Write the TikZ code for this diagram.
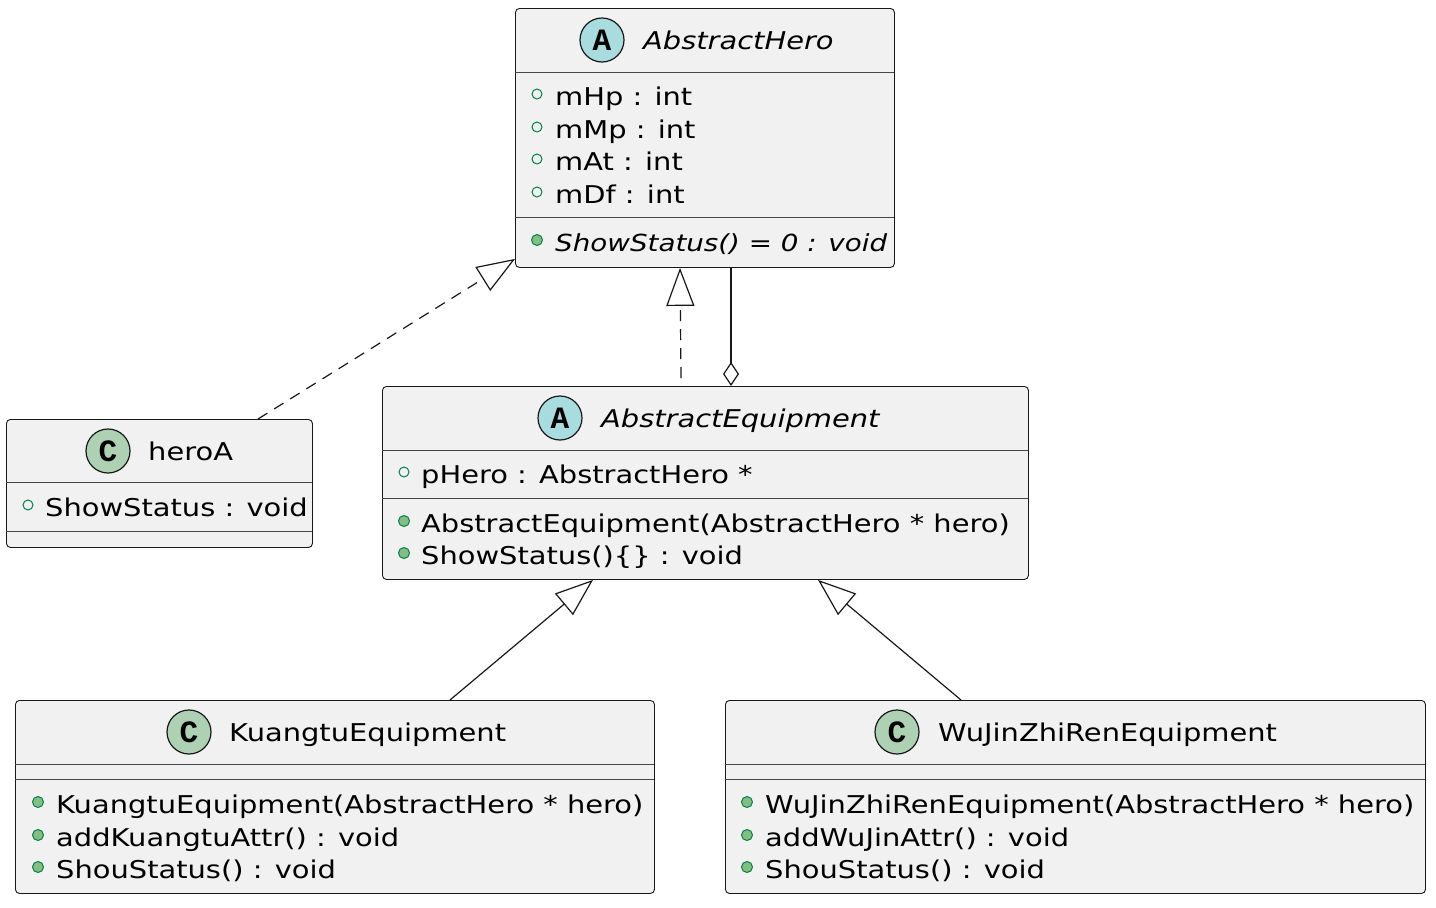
\documentclass[tikz,border=0pt]{standalone}
\usepackage{fontspec}
\setmainfont{DejaVu Sans}[FakeStretch=1.18]
\newfontfamily\iconfont{Liberation Mono}
\usepackage{tikz}
\usetikzlibrary{arrows.meta,positioning,calc}
\definecolor{umlFill}{HTML}{F1F1F1}
\definecolor{umlLine}{HTML}{181818}
\definecolor{iconClass}{HTML}{ADD1B2}
\definecolor{iconAbstract}{HTML}{A9DCDF}
\definecolor{visGreen}{HTML}{038048}
\definecolor{visFill}{HTML}{84BE84}

\begin{document}
\begin{tikzpicture}[x=1pt,y=-1pt,font=\fontsize{24.5}{29}\selectfont,
  umlbox/.style={draw=umlLine,fill=umlFill,line width=0.9pt,rounded corners=4pt,inner sep=0pt,anchor=north west},
  sepline/.style={draw=umlLine!80,line width=0.9pt},
  txt/.style={anchor=base west,inner sep=0pt},
  icon/.style={circle,draw=umlLine,line width=1.2pt,minimum size=44pt,inner sep=0pt,font=\iconfont\bfseries\fontsize{31}{31}\selectfont},
  pubAttr/.style={draw=visGreen,line width=1pt},
  pubOp/.style={draw=visGreen,fill=visFill,line width=1pt},
  realize/.style={draw=umlLine,line width=1.2pt,dash pattern=on 11pt off 8pt,-{Triangle[open,length=38pt,width=28pt]}},
  extend/.style={draw=umlLine,line width=1.2pt,-{Triangle[open,length=38pt,width=28pt]}},
  aggr/.style={draw=umlLine,line width=1.2pt,-{Diamond[open,length=24pt,width=16pt]}}]
\useasboundingbox (0,0) rectangle (1436,908);

\node[umlbox,minimum width=379pt,minimum height=259pt] (hero) at (515,8) {};
\node[icon,fill=iconAbstract] (heroIcon) at (602,40) {A};
\node[txt] at (643,49) {\itshape AbstractHero};
\draw[sepline] (515,72) -- (894,72);
\foreach \y/\t in {96/mHp : int,129/mMp : int,161/mAt : int,194/mDf : int}{
  \draw[pubAttr] (537,\y-2) circle (5pt);
  \node[txt] at (555,\y+9) {\t};
}
\draw[sepline] (515,217) -- (894,217);
\draw[pubOp] (537,240) circle (5.5pt);
\node[txt] at (555,251) {\fontsize{23.5}{28}\selectfont\itshape ShowStatus() = 0 : void};

\node[umlbox,minimum width=306pt,minimum height=128pt] (heroA) at (6,419) {};
\node[icon,fill=iconClass] (heroAIcon) at (108,451) {C};
\node[txt] at (148,460) {heroA};
\draw[sepline] (6,482) -- (312,482);
\draw[pubAttr] (28,505) circle (5pt);
\node[txt] at (45,516) {ShowStatus : void};
\draw[sepline] (6,531) -- (312,531);

\node[umlbox,minimum width=646pt,minimum height=193pt] (equip) at (382,386) {};
\node[icon,fill=iconAbstract] (equipIcon) at (560,418) {A};
\node[txt] at (601,427) {\itshape AbstractEquipment};
\draw[sepline] (382,450) -- (1028,450);
\draw[pubAttr] (404,472) circle (5pt);
\node[txt] at (421,483) {pHero : AbstractHero *};
\draw[sepline] (382,498) -- (1028,498);
\foreach \y/\t in {523/AbstractEquipment(AbstractHero * hero),555/ShowStatus()\{\} : void}{
  \draw[pubOp] (404,\y-2) circle (5.5pt);
  \node[txt] at (421,\y+9) {\t};
}

\node[umlbox,minimum width=639pt,minimum height=193pt] (kuangtu) at (15,700) {};
\node[icon,fill=iconClass] (kuangtuIcon) at (189,732) {C};
\node[txt] at (229,741) {KuangtuEquipment};
\draw[sepline] (15,764) -- (654,764);
\draw[sepline] (15,779) -- (654,779);
\foreach \y/\t in {804/KuangtuEquipment(AbstractHero * hero),837/addKuangtuAttr() : void,869/ShouStatus() : void}{
  \draw[pubOp] (38,\y-2) circle (5.5pt);
  \node[txt] at (56,\y+9) {\t};
}

\node[umlbox,minimum width=700pt,minimum height=193pt] (wujin) at (725,700) {};
\node[icon,fill=iconClass] (wujinIcon) at (897,732) {C};
\node[txt] at (938,741) {WuJinZhiRenEquipment};
\draw[sepline] (725,764) -- (1425,764);
\draw[sepline] (725,779) -- (1425,779);
\foreach \y/\t in {804/WuJinZhiRenEquipment(AbstractHero * hero),837/addWuJinAttr() : void,869/ShouStatus() : void}{
  \draw[pubOp] (747,\y-2) circle (5.5pt);
  \node[txt] at (765,\y+9) {\t};
}

\draw[realize] ([xshift=252pt]heroA.north west) -- ([yshift=9pt]hero.south west);
\draw[realize] ([xshift=299pt,yshift=8pt]equip.north west) -- ([xshift=165pt]hero.south west);
\draw[aggr] ([xshift=216pt]hero.south west) -- ([xshift=349pt]equip.north west);
\draw[extend] ([xshift=435pt]kuangtu.north west) -- ([xshift=211pt]equip.south west);
\draw[extend] ([xshift=236pt]wujin.north west) -- ([xshift=436pt]equip.south west);
\end{tikzpicture}
\end{document}
